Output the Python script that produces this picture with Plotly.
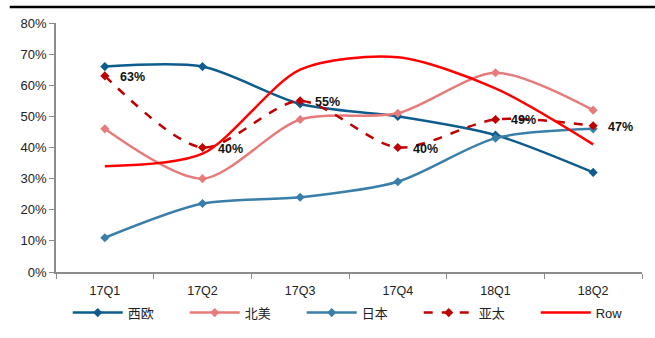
import plotly.graph_objects as go

quarters = ["17Q1", "17Q2", "17Q3", "17Q4", "18Q1", "18Q2"]
xi_ou = [66, 66, 54, 50, 44, 32]
bei_mei = [46, 30, 49, 51, 64, 52]
ri_ben = [11, 22, 24, 29, 43, 46]
ya_tai = [63, 40, 55, 40, 49, 47]
row = [34, 38, 65, 69, 59, 41]

y_ticks = [0, 10, 20, 30, 40, 50, 60, 70, 80]

fig = go.Figure()

series = [
    ("西欧", xi_ou, "#0E5C8E", "solid", True),
    ("北美", bei_mei, "#E77A7A", "solid", True),
    ("日本", ri_ben, "#3A7EAA", "solid", True),
    ("亚太", ya_tai, "#C00000", "dash", True),
    ("Row", row, "#FF0000", "solid", False),
]

for name, vals, color, dash, markers in series:
    fig.add_trace(go.Scatter(
        x=quarters, y=vals, name=name,
        mode="lines+markers" if markers else "lines",
        line=dict(color=color, width=2.5, dash=dash, shape="spline", smoothing=0.8),
        marker=dict(symbol="diamond", size=7, color=color),
        cliponaxis=False,
    ))

# value labels for 亚太
for q, v in zip(quarters, ya_tai):
    fig.add_annotation(
        x=q, y=v, text=f"<b>{v}%</b>", showarrow=False,
        xanchor="left", yanchor="middle", xshift=13, yshift=-1,
        font=dict(family="Liberation Sans, Arial", size=12.5, color="#111111"),
    )

# rule across the top
fig.add_shape(type="line", xref="paper", yref="paper",
              x0=-0.079, x1=1.03, y0=1.064, y1=1.064,
              line=dict(color="black", width=2.5))

fig.update_layout(
    width=655, height=338,
    margin=dict(l=56, r=13, t=23, b=66, autoexpand=False),
    paper_bgcolor="white", plot_bgcolor="white",
    font=dict(family="Liberation Sans, Arial, Noto Sans CJK SC", size=12, color="#222222"),
    showlegend=True,
    legend=dict(
        orientation="h", x=0.02, xanchor="left",
        yref="container", y=0.075, yanchor="middle",
        itemwidth=50, entrywidth=52, entrywidthmode="pixels",
        font=dict(family="Liberation Sans, Noto Sans CJK SC", size=13, color="#222222"),
        traceorder="normal", tracegroupgap=0,
    ),
    xaxis=dict(
        type="category", showgrid=False, showline=True, linecolor="#8C8C8C", linewidth=1.5,
        ticks="outside", tickson="boundaries", ticklen=5, tickcolor="#8C8C8C",
        tickfont=dict(size=12.5, color="#222222"), range=[-0.5, 5.5],
        ticklabelstandoff=6,
    ),
    yaxis=dict(
        range=[0, 80], tickvals=y_ticks, ticktext=[f"{v}%" for v in y_ticks],
        showgrid=False, showline=True, linecolor="#8C8C8C", linewidth=1.5,
        ticks="outside", ticklen=5, tickcolor="#8C8C8C", zeroline=False,
        tickfont=dict(size=13, color="#222222"),
    ),
)

fig.write_html("out.html")
